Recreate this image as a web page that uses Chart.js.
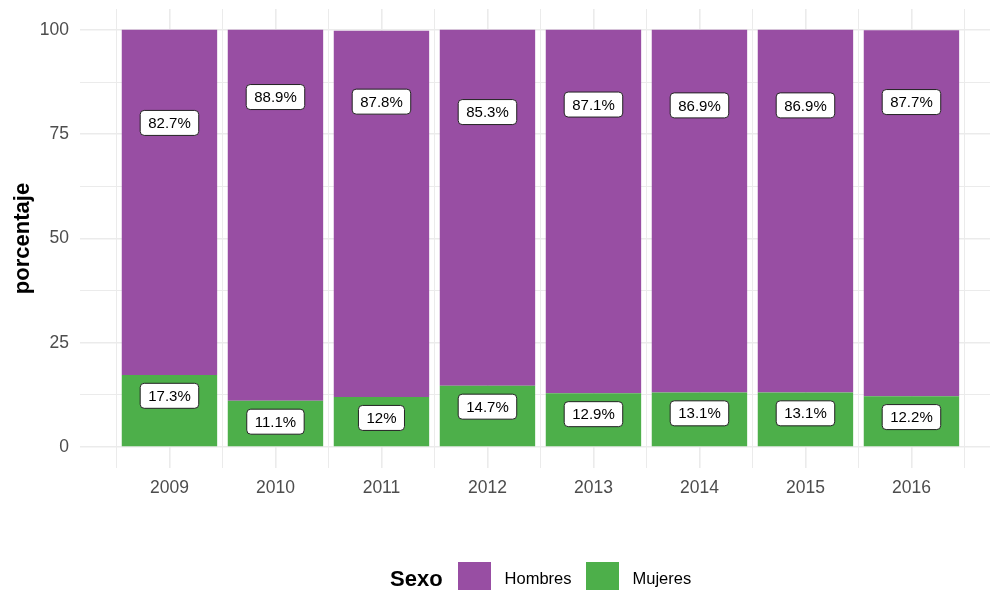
<!DOCTYPE html>
<html lang="es">
<head>
  <meta charset="UTF-8" />
  <title>Porcentaje por sexo, 2009-2016</title>
  <script src="https://cdn.jsdelivr.net/npm/chart.js"></script>
  <style>
    html, body {
      margin: 0;
      padding: 0;
      background: #fff;
      overflow: hidden;
    }
    body {
      width: 990px;
      height: 590px;
      position: relative;
      font-family: "Liberation Sans", Arial, sans-serif;
    }
    #grafico {
      position: absolute;
      left: 0;
      top: 0;
    }
    .leyenda {
      position: absolute;
      left: 390px;
      top: 562px;
      height: 33px;
      display: flex;
      align-items: center;
    }
    .leyenda .titulo {
      font-size: 22px;
      font-weight: bold;
      color: #000;
      margin-right: 15px;
    }
    .leyenda .caja {
      width: 33px;
      height: 33px;
      margin-right: 14px;
    }
    .leyenda .texto {
      font-size: 16.5px;
      color: #000;
      margin-right: 14px;
    }
  </style>
</head>
<body>
  <canvas id="grafico" width="990" height="590"></canvas>

  <!-- leyenda con titulo a la izquierda, como en ggplot -->
  <div class="leyenda" id="leyenda">
    <span class="titulo">Sexo</span>
  </div>

  <script>
    // datos
    const anios = ['2009', '2010', '2011', '2012', '2013', '2014', '2015', '2016'];
    const hombres = [82.7, 88.9, 87.8, 85.3, 87.1, 86.9, 86.9, 87.7];
    const mujeres = [17.3, 11.1, 12, 14.7, 12.9, 13.1, 13.1, 12.2];
    const ticksY = [0, 25, 50, 75, 100];

    const colorHombres = '#984EA3';
    const colorMujeres = '#4DAF4A';
    const colorTexto = '#4D4D4D';
    const colorRejilla = '#EBEBEB';
    const fuente = '"Liberation Sans", Arial, sans-serif';

    // lineas principales y secundarias de la rejilla
    const ticksX = anios.flatMap((_, i) => [i - 0.5, i]).concat(anios.length - 0.5);
    const ticksYTodos = ticksY.flatMap((v, i) => i < ticksY.length - 1 ? [v, (v + ticksY[i + 1]) / 2] : [v]);

    const esPrincipal = ctx => ctx.tick && Number.isInteger(ctx.tick.value) && (ctx.scale.axis === 'x' || ticksY.includes(ctx.tick.value));

    // etiquetas con recuadro blanco (geom_label), centradas en valor - 5
    const etiquetas = {
      id: 'etiquetas',
      afterDatasetsDraw(chart) {
        const ctx = chart.ctx;
        const escalaY = chart.scales.y;
        ctx.save();
        ctx.font = '15px ' + fuente;
        ctx.textAlign = 'center';
        ctx.textBaseline = 'middle';
        chart.data.datasets.forEach((ds, di) => {
          chart.getDatasetMeta(di).data.forEach((barra, i) => {
            const valor = ds.data[i].y;
            const texto = valor + '%';
            const x = barra.x;
            const y = escalaY.getPixelForValue(valor - 5);
            const w = ctx.measureText(texto).width + 16;
            const h = 25;
            const r = 4;
            const x0 = x - w / 2, y0 = y - h / 2;
            ctx.beginPath();
            ctx.moveTo(x0 + r, y0);
            ctx.arcTo(x0 + w, y0, x0 + w, y0 + h, r);
            ctx.arcTo(x0 + w, y0 + h, x0, y0 + h, r);
            ctx.arcTo(x0, y0 + h, x0, y0, r);
            ctx.arcTo(x0, y0, x0 + w, y0, r);
            ctx.closePath();
            ctx.fillStyle = '#fff';
            ctx.fill();
            ctx.lineWidth = 1;
            ctx.strokeStyle = '#222';
            ctx.stroke();
            ctx.fillStyle = '#000';
            ctx.fillText(texto, x, y + 1);
          });
        });
        ctx.restore();
      }
    };

    const series = [
      { label: 'Mujeres', data: mujeres, color: colorMujeres },
      { label: 'Hombres', data: hombres, color: colorHombres }
    ];

    new Chart(document.getElementById('grafico').getContext('2d'), {
      type: 'bar',
      data: {
        datasets: series.map(s => ({
          label: s.label,
          data: s.data.map((v, i) => ({ x: i, y: v })),
          backgroundColor: s.color,
          borderWidth: 0,
          // el hueco minimo lo marcan las lineas de media unidad, de ahi 1.8 = 0.9 de cada anio
          barPercentage: 1.8,
          categoryPercentage: 1
        }))
      },
      options: {
        responsive: false,
        animation: false,
        devicePixelRatio: 1,
        layout: { padding: { top: 9, right: 0, bottom: 82, left: 0 } },
        plugins: {
          legend: { display: false },
          tooltip: { enabled: false }
        },
        scales: {
          x: {
            type: 'linear',
            offset: false,
            min: -0.844,
            max: 7.741,
            stacked: true,
            afterBuildTicks: s => { s.ticks = ticksX.map(v => ({ value: v })); },
            afterFit: s => { s.height = 40; s.paddingLeft = 0; s.paddingRight = 0; },
            ticks: {
              autoSkip: false,
              maxRotation: 0,
              padding: 10,
              color: colorTexto,
              font: { family: fuente, size: 17.5 },
              callback: v => Number.isInteger(v) ? anios[v] : ''
            },
            grid: {
              offset: false,
              color: colorRejilla,
              lineWidth: ctx => esPrincipal(ctx) ? 1.6 : 1,
              drawTicks: false
            },
            border: { display: false }
          },
          y: {
            min: -5,
            max: 105,
            stacked: true,
            afterBuildTicks: s => { s.ticks = ticksYTodos.map(v => ({ value: v })); },
            afterFit: s => { s.width = 80; s.paddingTop = 0; s.paddingBottom = 0; },
            ticks: {
              padding: 11,
              color: colorTexto,
              font: { family: fuente, size: 17.5 },
              callback: v => ticksY.includes(v) ? v : ''
            },
            grid: {
              color: colorRejilla,
              lineWidth: ctx => esPrincipal(ctx) ? 1.6 : 1,
              drawTicks: false
            },
            border: { display: false },
            title: {
              display: true,
              text: 'porcentaje',
              color: '#000',
              font: { family: fuente, size: 22, weight: 'bold' },
              padding: { top: 10, bottom: 0 }
            }
          }
        }
      },
      plugins: [etiquetas]
    });

    // leyenda: Hombres primero, luego Mujeres
    const leyenda = document.getElementById('leyenda');
    [['Hombres', colorHombres], ['Mujeres', colorMujeres]].forEach(([nombre, color]) => {
      const caja = document.createElement('span');
      caja.className = 'caja';
      caja.style.background = color;
      const texto = document.createElement('span');
      texto.className = 'texto';
      texto.textContent = nombre;
      leyenda.appendChild(caja);
      leyenda.appendChild(texto);
    });
  </script>
</body>
</html>
